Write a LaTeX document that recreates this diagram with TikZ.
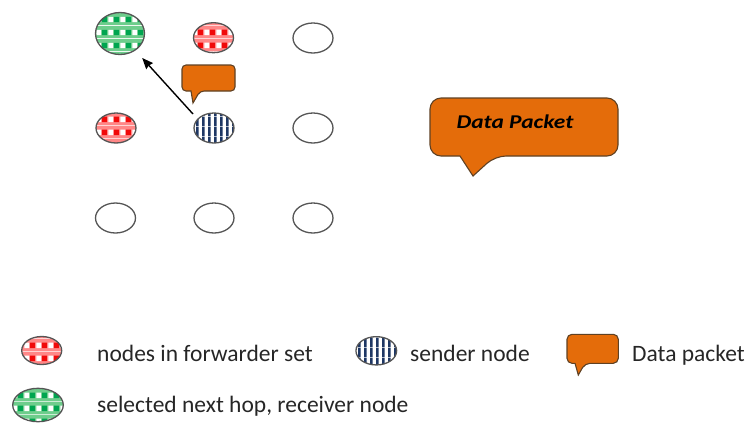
\documentclass[tikz,border=0pt]{standalone}
\usepackage{fontspec}
\setmainfont{Carlito}
\usepackage{graphicx}
\usetikzlibrary{shapes.geometric,patterns,arrows.meta}
\definecolor{grlight}{RGB}{110,205,140}
\definecolor{grdark}{RGB}{0,165,80}
\definecolor{rdlight}{RGB}{255,135,135}
\definecolor{rddark}{RGB}{240,10,10}
\definecolor{navy}{RGB}{30,55,100}
\definecolor{orangeF}{RGB}{228,108,10}
\definecolor{orangeD}{RGB}{95,65,35}
\definecolor{rimgray}{RGB}{85,85,85}
\pgfdeclarepatterninherentlycolored{greencheck}{\pgfpointorigin}{\pgfpoint{12pt}{12.5pt}}{\pgfpoint{12pt}{12.5pt}}{%
  \pgfsetfillcolor{grlight}\pgfpathrectangle{\pgfpointorigin}{\pgfpoint{12pt}{12.5pt}}\pgfusepath{fill}%
  \pgfsetfillcolor{white}\pgfpathrectangle{\pgfpoint{0.5pt}{3pt}}{\pgfpoint{5pt}{5.5pt}}\pgfusepath{fill}%
  \pgfsetfillcolor{grdark}\pgfpathrectangle{\pgfpoint{6.5pt}{3pt}}{\pgfpoint{5pt}{5.5pt}}\pgfusepath{fill}%
}
\pgfdeclarepatterninherentlycolored{redcheck}{\pgfpointorigin}{\pgfpoint{12pt}{12.5pt}}{\pgfpoint{12pt}{12.5pt}}{%
  \pgfsetfillcolor{rdlight}\pgfpathrectangle{\pgfpointorigin}{\pgfpoint{12pt}{12.5pt}}\pgfusepath{fill}%
  \pgfsetfillcolor{white}\pgfpathrectangle{\pgfpoint{0.5pt}{3pt}}{\pgfpoint{5pt}{5.5pt}}\pgfusepath{fill}%
  \pgfsetfillcolor{rddark}\pgfpathrectangle{\pgfpoint{6.5pt}{3pt}}{\pgfpoint{5pt}{5.5pt}}\pgfusepath{fill}%
}
\pgfdeclarepatterninherentlycolored{bluestripe}{\pgfpointorigin}{\pgfpoint{5.6pt}{10pt}}{\pgfpoint{5.6pt}{10pt}}{%
  \pgfsetfillcolor{white}\pgfpathrectangle{\pgfpointorigin}{\pgfpoint{5.6pt}{10pt}}\pgfusepath{fill}%
  \pgfsetfillcolor{navy}\pgfpathrectangle{\pgfpointorigin}{\pgfpoint{2.8pt}{10pt}}\pgfusepath{fill}%
}
\tikzset{
  nd/.style={ellipse, inner sep=0pt, minimum width=40pt, minimum height=30pt, draw=rimgray, line width=1.3pt},
  greennd/.style={nd, pattern=greencheck},
  rednd/.style={nd, pattern=redcheck},
  bluend/.style={nd, pattern=bluestripe},
  bubble/.style={fill=orangeF, draw=orangeD, line width=1.1pt},
  legtxt/.style={anchor=base west, inner sep=0pt, font=\fontsize{23.5}{28}\selectfont, text=black!85},
  arr/.style={-{Stealth[length=11pt,width=9pt,inset=1pt]}, line width=1.4pt, black}
}
\begin{document}
\begin{tikzpicture}[x=1pt,y=-1pt]
\useasboundingbox (0,0) rectangle (752,426);
% grid
\node[greennd, minimum width=49pt, minimum height=42pt] (g) at (120,33.5) {};
\node[rednd] (r1) at (213.5,37.7) {};
\node[nd] (e1) at (313,38) {};
\node[rednd] (r2) at (116,128) {};
\node[bluend] (s) at (214,128) {};
\node[nd] (e2) at (313,128) {};
\node[nd] (e3) at (115.5,218) {};
\node[nd] (e4) at (214,218) {};
\node[nd] (e5) at (313,218) {};
% small packet bubble
\draw[bubble, rounded corners=4pt] (182,65) -- (235,65) -- (235,91) -- (200,91) [sharp corners] -- (193,103) -- (191,91) [rounded corners=4pt] -- (182,91) -- cycle;
% arrow
\coordinate (src) at (193,114);
\draw[arr, shorten >=10pt] (src) -- (g);
% big packet bubble
\draw[bubble, rounded corners=11pt] (430,98) -- (618,98) -- (618,156) -- (495,156) [sharp corners] -- (473,176) -- (460,156) [rounded corners=11pt] -- (430,156) -- cycle;
\node[anchor=base, inner sep=0pt, font=\fontsize{19.5}{22}\selectfont\bfseries\itshape] (dp) at (515,128) {\scalebox{1.2}[1]{Data Packet}};
% legend
\node[rednd, minimum width=40pt, minimum height=28pt] (lr) at (41.7,350.5) {};
\node[legtxt] (lrt) at (97,361) {nodes in forwarder set};
\node[bluend, minimum width=40.7pt, minimum height=28.3pt] (ls) at (376.3,350.8) {};
\node[legtxt] (lst) at (410,361) {sender node};
\draw[bubble, rounded corners=5pt] (567,334.3) -- (618.3,334.3) -- (618.3,363.3) -- (585,363.3) [sharp corners] -- (578.3,375) -- (575,363.3) [rounded corners=5pt] -- (567,363.3) -- cycle;
\node[legtxt] (ldt) at (632,361) {Data packet};
\node[greennd, minimum width=50.6pt, minimum height=33.4pt] (lg) at (38,405) {};
\node[legtxt] (lgt) at (97,412) {selected next hop, receiver node};
\end{tikzpicture}
\end{document}
